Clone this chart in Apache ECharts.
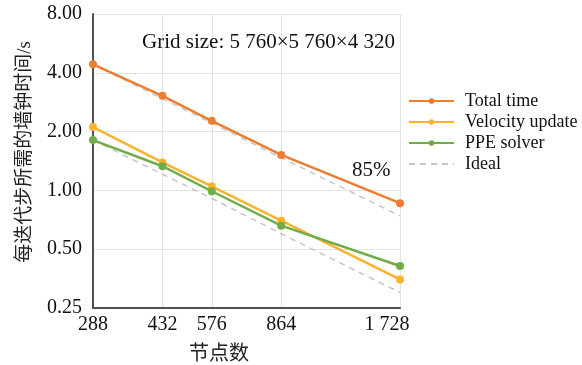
<!DOCTYPE html>
<html>
<head>
<meta charset="utf-8">
<script src="https://cdn.jsdelivr.net/npm/echarts@6/dist/echarts.min.js"></script>
<style>html,body{margin:0;padding:0;background:#fff}#c{width:582px;height:365px}</style>
</head>
<body>
<div id="c"></div>
<script>
var nodes = [288, 432, 576, 864, 1728];
var xTickLabels = ['288', '432', '576', '864', '1 728'];
var yTicks = [0.25, 0.5, 1, 2, 4, 8];
var yTickLabels = ['0.25', '0.50', '1.00', '2.00', '4.00', '8.00'];
var totalTime = [4.42, 3.05, 2.27, 1.52, 0.86];
var velocityUpdate = [2.11, 1.39, 1.05, 0.70, 0.35];
var ppeSolver = [1.81, 1.33, 0.99, 0.66, 0.41];
var idealTotal = [4.42, 2.95, 2.21, 1.47, 0.74];
var idealPPE = [1.81, 1.21, 0.91, 0.60, 0.30];
var titleText = 'Grid size: 5 760×5 760×4 320';
var efficiencyText = '85%';

function pairs(ys) { return nodes.map(function (x, i) { return [x, ys[i]]; }); }

var FONT = '"Liberation Serif", "Noto Sans CJK SC", serif';
var chart = echarts.init(document.getElementById('c'), null, {renderer: 'canvas'});

function lineSeries(name, data, color) {
  return {
    name: name, type: 'line', data: pairs(data),
    symbol: 'circle', symbolSize: 8,
    itemStyle: {color: color},
    lineStyle: {color: color, width: 2.5},
    z: 3
  };
}
function idealSeries(data) {
  return {
    name: 'Ideal', type: 'line', data: pairs(data),
    symbol: 'none',
    itemStyle: {color: '#c6c6c6'},
    lineStyle: {color: '#c6c6c6', width: 1.5, type: [6, 5]},
    z: 2
  };
}

chart.setOption({
  animation: false,
  textStyle: {fontFamily: FONT},
  grid: {left: 93, right: 182, top: 14, bottom: 57, containLabel: false, outerBoundsMode: 'none'},
  title: [
    {text: titleText, left: 137, top: 27, textStyle: {fontFamily: FONT, fontSize: 21, fontWeight: 'normal', color: '#111'}},
    {text: efficiencyText, left: 347, top: 155, textStyle: {fontFamily: FONT, fontSize: 21, fontWeight: 'normal', color: '#111'}}
  ],
  legend: {
    orient: 'vertical', left: 403, top: 87,
    itemWidth: 45, itemHeight: 7, itemGap: 3,
    data: ['Total time', 'Velocity update', 'PPE solver', {name: 'Ideal', itemStyle: {opacity: 0}}],
    textStyle: {fontFamily: FONT, fontSize: 18, color: '#111', padding: [0, 0, 0, 6]}
  },
  xAxis: {
    type: 'log', logBase: 2, min: 288, max: 1728,
    name: '节点数', nameLocation: 'middle', nameGap: 37,
    nameTextStyle: {fontFamily: FONT, fontSize: 20, color: '#222', padding: [0, 55, 0, 0]},
    axisLine: {show: true, lineStyle: {color: '#505050', width: 2}},
    axisTick: {show: false, customValues: nodes},
    axisLabel: {
      customValues: nodes, margin: 7,
      fontFamily: FONT, fontSize: 20, color: '#111',
      formatter: function (v) {
        var i = nodes.indexOf(Math.round(v));
        if (i < 0) return '';
        return i === nodes.length - 1 ? '{last|' + xTickLabels[i] + '}' : xTickLabels[i];
      },
      rich: {last: {fontFamily: FONT, fontSize: 20, color: '#111', padding: [0, 26, 0, 0]}}
    },
    splitLine: {show: true, lineStyle: {color: '#e3e3e3', width: 1}}
  },
  yAxis: {
    type: 'log', logBase: 2, min: 0.25, max: 8,
    name: '每迭代步所需的墙钟时间/s', nameLocation: 'middle', nameGap: 58,
    nameTextStyle: {fontFamily: FONT, fontSize: 19, color: '#222', padding: [0, 0, 0, 18]},
    axisLine: {show: true, lineStyle: {color: '#505050', width: 2}},
    axisTick: {show: false, customValues: yTicks},
    axisLabel: {
      customValues: yTicks, margin: 11,
      fontFamily: FONT, fontSize: 20, color: '#111',
      formatter: function (v) {
        for (var i = 0; i < yTicks.length; i++) { if (Math.abs(yTicks[i] - v) < 1e-6) return yTickLabels[i]; }
        return '';
      }
    },
    splitLine: {show: true, lineStyle: {color: '#e3e3e3', width: 1}}
  },
  series: [
    idealSeries(idealTotal),
    idealSeries(idealPPE),
    lineSeries('Total time', totalTime, '#ED7D31'),
    lineSeries('Velocity update', velocityUpdate, '#FBB32D'),
    lineSeries('PPE solver', ppeSolver, '#70AD47')
  ]
});
</script>
</body>
</html>
